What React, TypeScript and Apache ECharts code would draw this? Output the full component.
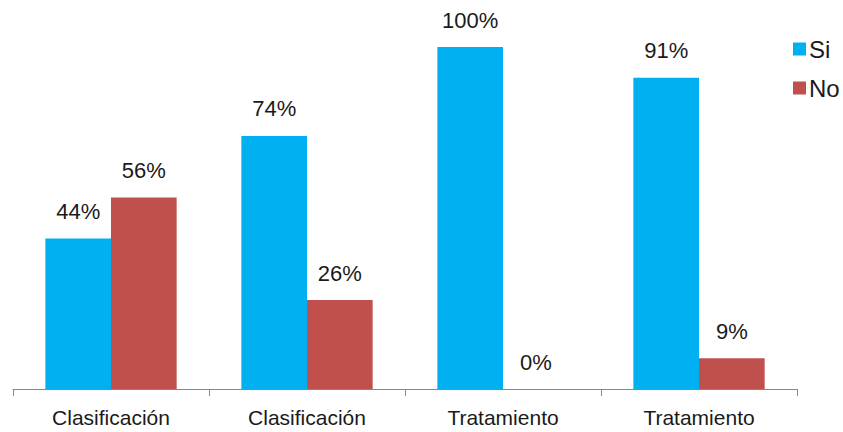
import React, { useEffect, useRef } from "react";
import * as echarts from "echarts";

const categories = ["Clasificación", "Clasificación", "Tratamiento", "Tratamiento"];
const siValues = [44, 74, 100, 91];
const noValues = [56, 26, 0, 9];

export default function App() {
  const ref = useRef<HTMLDivElement>(null);
  useEffect(() => {
    if (!ref.current) return;
    const chart = echarts.init(ref.current, null, { renderer: "svg" });
    const font = "Liberation Sans";
    const label = {
      show: true,
      position: "top" as const,
      distance: 16,
      formatter: "{c}%",
      fontFamily: font,
      fontSize: 22,
      color: "#1a1a1a",
    };
    chart.setOption({
      animation: false,
      grid: { left: 13, right: 46, top: 47, bottom: 43, containLabel: false },
      legend: {
        orient: "vertical",
        left: 788,
        top: 32,
        itemWidth: 13,
        itemHeight: 13,
        itemGap: 15,
        icon: "rect",
        textStyle: { fontFamily: font, fontSize: 24, color: "#1a1a1a", padding: [0, 0, 0, -2] },
        data: ["Si", "No"],
      },
      xAxis: {
        type: "category",
        data: categories,
        axisLine: { lineStyle: { color: "#868686", width: 1 } },
        axisTick: { show: true, length: 7, lineStyle: { color: "#868686" } },
        axisLabel: { fontFamily: font, fontSize: 21, color: "#1a1a1a", margin: 18, interval: 0 },
      },
      yAxis: {
        type: "value",
        min: 0,
        max: 100,
        show: false,
      },
      series: [
        {
          name: "Si",
          type: "bar",
          data: siValues,
          itemStyle: { color: "#00B0F0" },
          barGap: "0%",
          barCategoryGap: "33%",
          label,
        },
        {
          name: "No",
          type: "bar",
          data: noValues,
          itemStyle: { color: "#C0504D" },
          barGap: "0%",
          barCategoryGap: "33%",
          label,
        },
      ],
    });
    return () => chart.dispose();
  }, []);
  return <div ref={ref} style={{ width: 843, height: 432, position: "absolute", left: 0, top: 0 }} />;
}
